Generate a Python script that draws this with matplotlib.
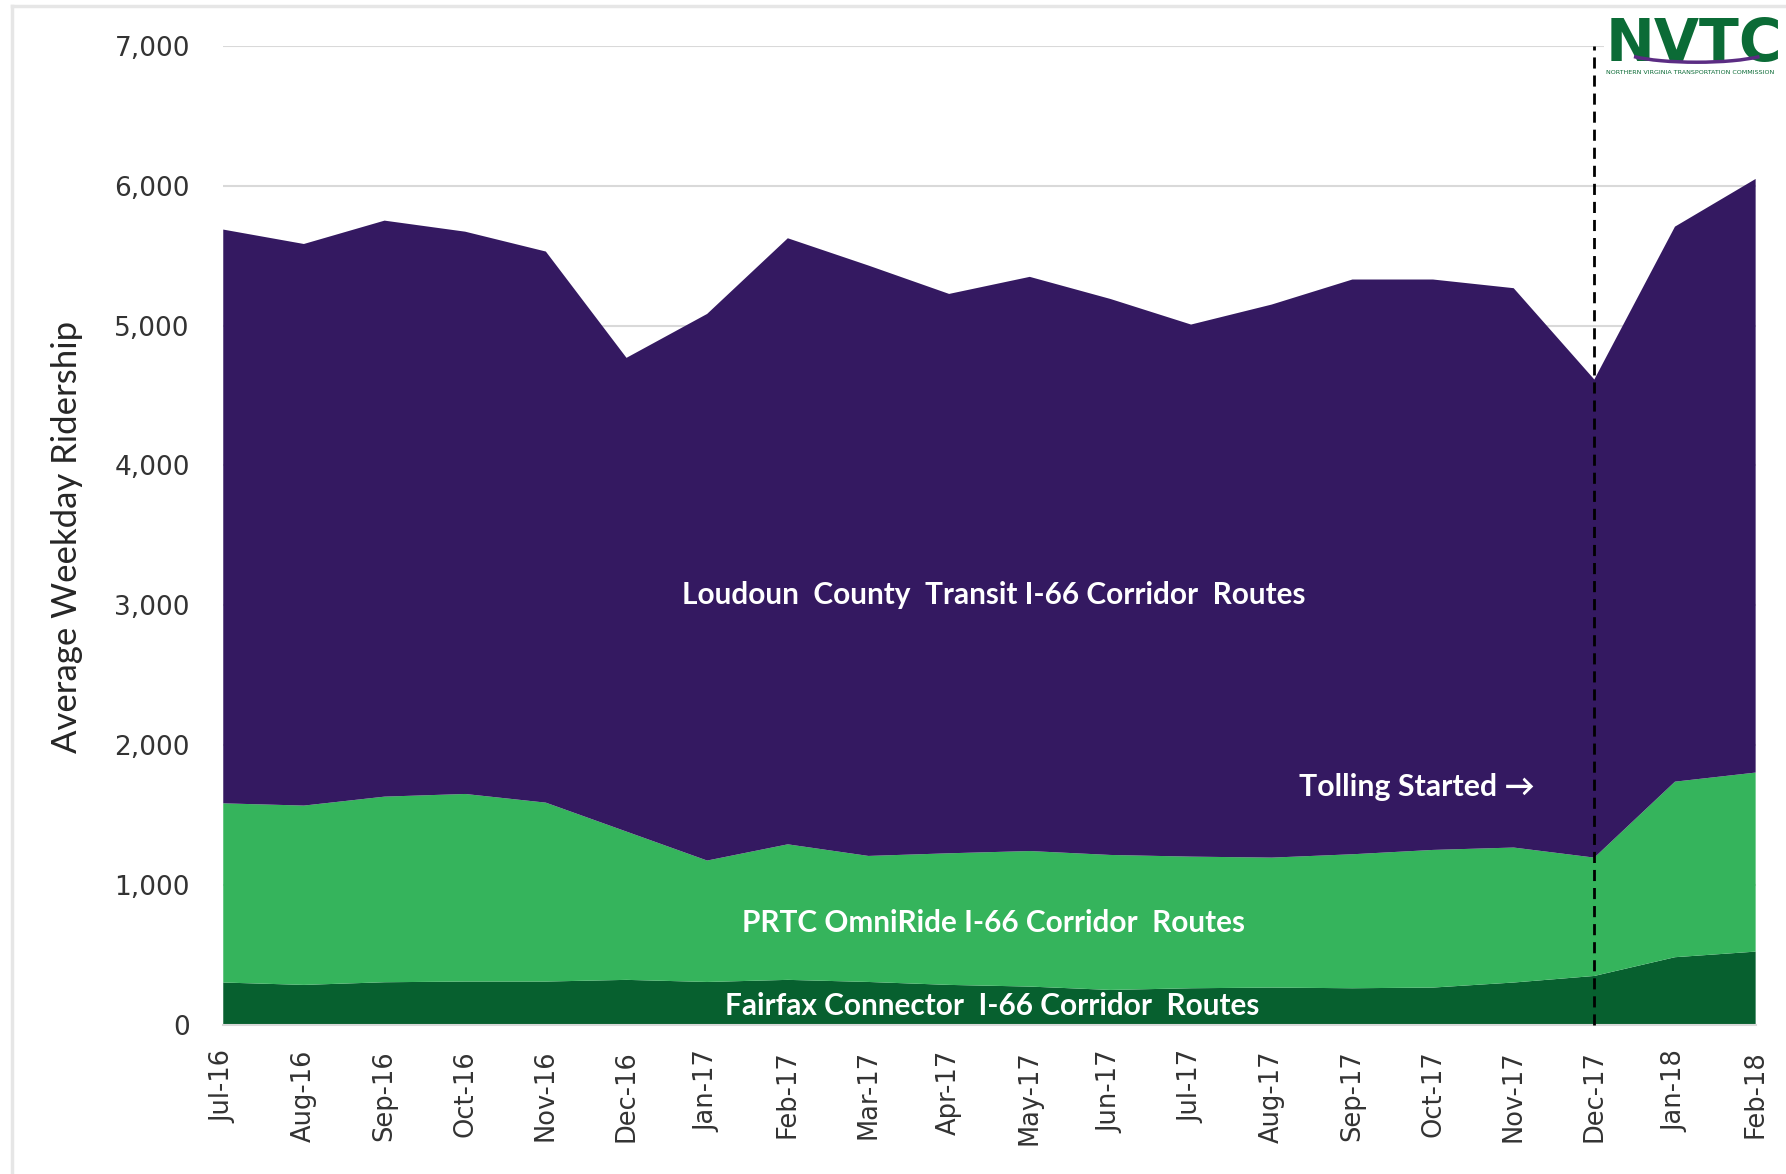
import numpy as np
import matplotlib
matplotlib.use("Agg")
import matplotlib.pyplot as plt
from matplotlib.lines import Line2D
from matplotlib.patches import Arc, Rectangle

# monthly average weekday ridership
months = ['Jul-16', 'Aug-16', 'Sep-16', 'Oct-16', 'Nov-16', 'Dec-16', 'Jan-17',
          'Feb-17', 'Mar-17', 'Apr-17', 'May-17', 'Jun-17', 'Jul-17', 'Aug-17',
          'Sep-17', 'Oct-17', 'Nov-17', 'Dec-17', 'Jan-18', 'Feb-18']
fairfax = [303, 286, 305, 310, 310, 322, 307, 322, 307, 286,
           274, 250, 262, 267, 262, 267, 303, 350, 484, 524]
prtc = [1281, 1282, 1327, 1341, 1279, 1060, 868, 969, 901, 941,
        969, 965, 941, 929, 958, 984, 965, 846, 1255, 1280]
loudoun = [4102, 4015, 4118, 4020, 3940, 3387, 3908, 4333, 4221, 3999,
           4105, 3975, 3804, 3954, 4109, 4078, 3999, 3418, 3968, 4244]
yticks = [0, 1000, 2000, 3000, 4000, 5000, 6000, 7000]
toll_month = 'Dec-17'

c_purple = '#341961'
c_green = '#35B45C'
c_dark = '#07602F'

fig = plt.figure(figsize=(17.86, 11.74), dpi=100)
ax = fig.add_axes([0.125, 0.127, 0.858, 0.834])

x = np.arange(len(months))
ax.stackplot(x, fairfax, prtc, loudoun, colors=[c_dark, c_green, c_purple],
             linewidth=0, zorder=2)

ax.set_xlim(0, len(months) - 1)
ax.set_ylim(0, 7000)
ax.set_yticks(yticks)
ax.set_yticklabels(['{:,}'.format(v) for v in yticks])
ax.set_xticks(x)
ax.set_xticklabels(months, rotation=90)
ax.tick_params(axis='y', length=0, pad=24, labelsize=19, labelcolor='#333333')
ax.tick_params(axis='x', length=0, pad=18, labelsize=18.5, labelcolor='#333333')
ax.grid(axis='y', color='#D9D9D9', linewidth=1.5, zorder=0)
ax.set_axisbelow(True)
for s in ['top', 'right', 'left']:
    ax.spines[s].set_visible(False)
ax.spines['bottom'].set_color('#D9D9D9')
ax.spines['bottom'].set_linewidth(1.5)

ax.set_ylabel('Average Weekday Ridership', fontsize=25, family='Lato',
              color='#262626')
ax.yaxis.set_label_coords(-0.0914, 0.498)

# tolling start marker
xi = months.index(toll_month)
ax.plot([xi, xi], [0, 7000], color='black', linestyle=(0, (4, 2.5)),
        linewidth=2, zorder=3, clip_on=False)

lab = dict(color='white', fontsize=21.4, family='Lato', weight='bold',
           ha='center', va='center', zorder=4)
ax.text(9.55, 3070, 'Loudoun  County  Transit I-66 Corridor  Routes', **lab)
ax.text(9.55, 732, 'PRTC OmniRide I-66 Corridor  Routes', **lab)
ax.text(9.54, 136, 'Fairfax Connector  I-66 Corridor  Routes', **lab)
ax.text(14.8, 1701, 'Tolling Started \u2192', color='white', fontsize=21.8,
        family=['Lato', 'DejaVu Sans'], weight='bold', ha='center',
        va='center', zorder=4)

# logo (white patch hides the top gridline under it)
fig.add_artist(Rectangle((0.898, 0.93), 0.102, 0.058, facecolor='white',
                         edgecolor='none', zorder=5))
fig.text(0.899, 0.962, 'NVTC', fontsize=42, weight='bold', family='DejaVu Sans',
         color='#0B6B36', ha='left', va='center', zorder=6)
fig.add_artist(Arc((0.95, 0.958), 0.085, 0.022, theta1=190, theta2=350,
                   color='#5B2C83', linewidth=2.5, zorder=7))
fig.text(0.899, 0.938, 'NORTHERN VIRGINIA TRANSPORTATION COMMISSION', fontsize=4.6,
         color='#0B6B36', ha='left', va='center', zorder=6)

# light frame
fig.add_artist(Line2D([0.0067, 1], [0.995, 0.995], color='#E6E6E6', linewidth=2.5))
fig.add_artist(Line2D([0.0067, 0.0067], [0, 0.995], color='#E6E6E6', linewidth=2.5))

fig.savefig('out.png', dpi=100)
